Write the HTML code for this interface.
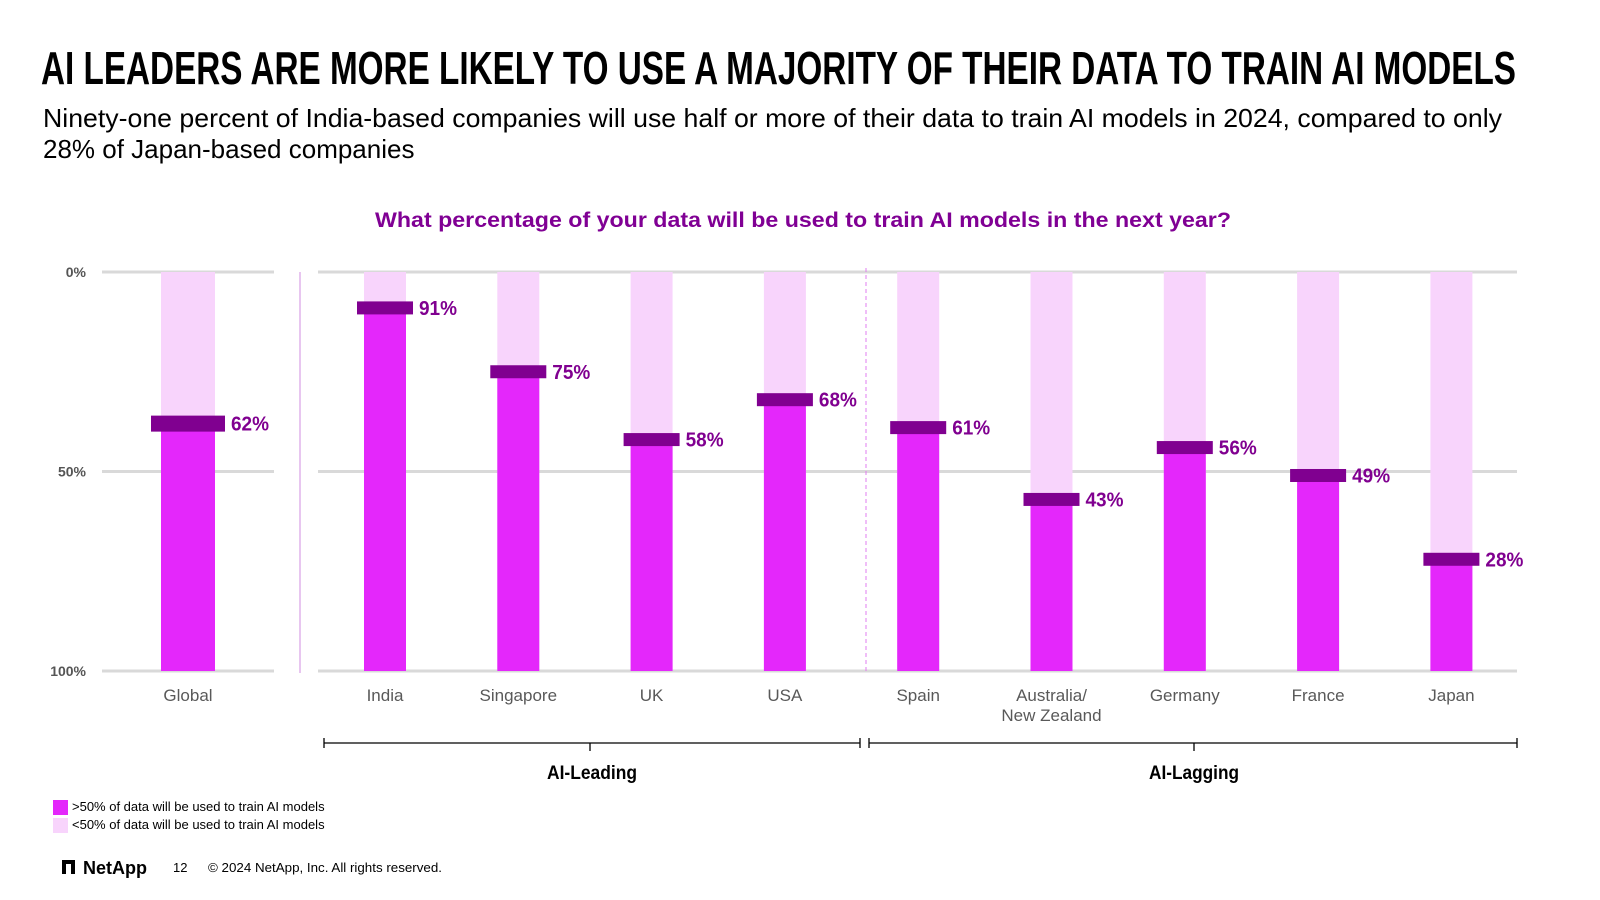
<!DOCTYPE html>
<html><head><meta charset="utf-8"><style>
html,body{margin:0;padding:0;background:#fff;width:1600px;height:900px;overflow:hidden}
svg{display:block;font-family:"Liberation Sans",sans-serif}
.nar{font-family:"Liberation Sans Narrow","Liberation Sans",sans-serif}
</style></head><body>
<svg id="chart" width="1600" height="900" viewBox="0 0 1600 900" xmlns="http://www.w3.org/2000/svg">
<text class="nar" x="41" y="84" font-size="46" font-weight="bold" fill="#000" textLength="1475" lengthAdjust="spacingAndGlyphs">AI LEADERS ARE MORE LIKELY TO USE A MAJORITY OF THEIR DATA TO TRAIN AI MODELS</text>
<text x="43" y="127" font-size="26" fill="#000" textLength="1459" lengthAdjust="spacingAndGlyphs">Ninety-one percent of India-based companies will use half or more of their data to train AI models in 2024, compared to only</text>
<text x="43" y="158" font-size="26" fill="#000">28% of Japan-based companies</text>
<text x="803" y="227" font-size="21" font-weight="bold" fill="#800094" text-anchor="middle" textLength="856" lengthAdjust="spacingAndGlyphs">What percentage of your data will be used to train AI models in the next year?</text>
<g id="grid"></g>
<g id="bars"></g>
<g id="labels"></g>
<line x1="300" y1="272" x2="300" y2="673" stroke="#d9a0e6" stroke-width="1.2"/>
<line x1="866" y1="268" x2="866" y2="673" stroke="#e27cf0" stroke-width="1" stroke-dasharray="4,3"/>
<g stroke="#000" stroke-width="1.3">
<line x1="324" y1="743" x2="860" y2="743"/><line x1="324" y1="738" x2="324" y2="748"/><line x1="860" y1="738" x2="860" y2="748"/><line x1="590" y1="743" x2="590" y2="751"/></g>
<g stroke="#000" stroke-width="1.3">
<line x1="869" y1="743" x2="1517" y2="743"/><line x1="869" y1="738" x2="869" y2="748"/><line x1="1517" y1="738" x2="1517" y2="748"/><line x1="1194" y1="743" x2="1194" y2="751"/></g>
<text class="nar" x="592" y="779" font-size="19" font-weight="bold" text-anchor="middle" textLength="90" lengthAdjust="spacingAndGlyphs">AI-Leading</text>
<text class="nar" x="1194" y="779" font-size="19" font-weight="bold" text-anchor="middle" textLength="90" lengthAdjust="spacingAndGlyphs">AI-Lagging</text>
<rect x="53" y="800" width="15" height="15" fill="#e427fb"/>
<text x="72" y="811" font-size="13">&gt;50% of data will be used to train AI models</text>
<rect x="53" y="818" width="15" height="15" fill="#f8d4fc"/>
<text x="72" y="829" font-size="13">&lt;50% of data will be used to train AI models</text>
<g>
<path d="M62 860 H75 V874 H71 V864 H66 V874 H62 Z" fill="#000"/>
<text x="83" y="874" font-size="18" font-weight="bold">NetApp</text></g>
<text x="173" y="872" font-size="13">12</text>
<text x="208" y="872" font-size="13" textLength="234" lengthAdjust="spacingAndGlyphs">© 2024 NetApp, Inc. All rights reserved.</text>
</svg>
<script>
const categories=["Global","India","Singapore","UK","USA","Spain","Australia/\nNew Zealand","Germany","France","Japan"];
const values=[62,91,75,58,68,61,43,56,49,28];
const tickValues=[0,50,100];
const tickLabels=["0%","50%","100%"];
const NS="http://www.w3.org/2000/svg";
const y0=272,y100=671;
function y(v){return y0+(y100-y0)*v/100;}
function yVal(v){return y100-(y100-y0)*v/100;}
function x(i){return i===0?188:385+133.3*(i-1);}
function mk(tag,attrs,parent){const e=document.createElementNS(NS,tag);for(const k in attrs)e.setAttribute(k,attrs[k]);parent.appendChild(e);return e;}
const grid=document.getElementById('grid'),bars=document.getElementById('bars'),labels=document.getElementById('labels');
tickValues.forEach((t,i)=>{
  let l1=mk('line',{x1:102,x2:274,y1:y(t),y2:y(t),stroke:'#d9d9d9','stroke-width':3},grid);
  
  
  let l2=mk('line',{x1:318,x2:1517,y1:y(t),y2:y(t),stroke:'#d9d9d9','stroke-width':3},grid);
  
  
  let tx=mk('text',{x:86,y:y(t)+5,'font-size':14,'font-weight':'bold',fill:'#555','text-anchor':'end'},labels);
  tx.textContent=tickLabels[i];
  
  
});
values.forEach((v,i)=>{
  const cx=x(i),w=i===0?54:42,mw=i===0?74:56,mh=i===0?16:13;
  const yv=yVal(v);
  let bg=mk('rect',{x:cx-w/2,y:y0,width:w,height:y100-y0,fill:'#f8d4fc'},bars);
  
  
  let fg=mk('rect',{x:cx-w/2,y:yv,width:w,height:y100-yv,fill:'#e427fb'},bars);
  
  
  let m=mk('rect',{x:cx-mw/2,y:yv-mh/2,width:mw,height:mh,fill:'#800090'},bars);
  
  
  let t=mk('text',{x:cx+mw/2+6,y:yv+7,'font-size':20,'font-weight':'bold',fill:'#800090',class:'nar',textLength:38,lengthAdjust:'spacingAndGlyphs'},labels);
  t.textContent=v+'%';
  
  
  categories[i].split('\n').forEach((line,j)=>{
    let c=mk('text',{x:cx,y:701+j*20,'font-size':17,fill:'#595959','text-anchor':'middle'},labels);
    c.textContent=line;
    
    
  });
});
</script>
</body></html>
